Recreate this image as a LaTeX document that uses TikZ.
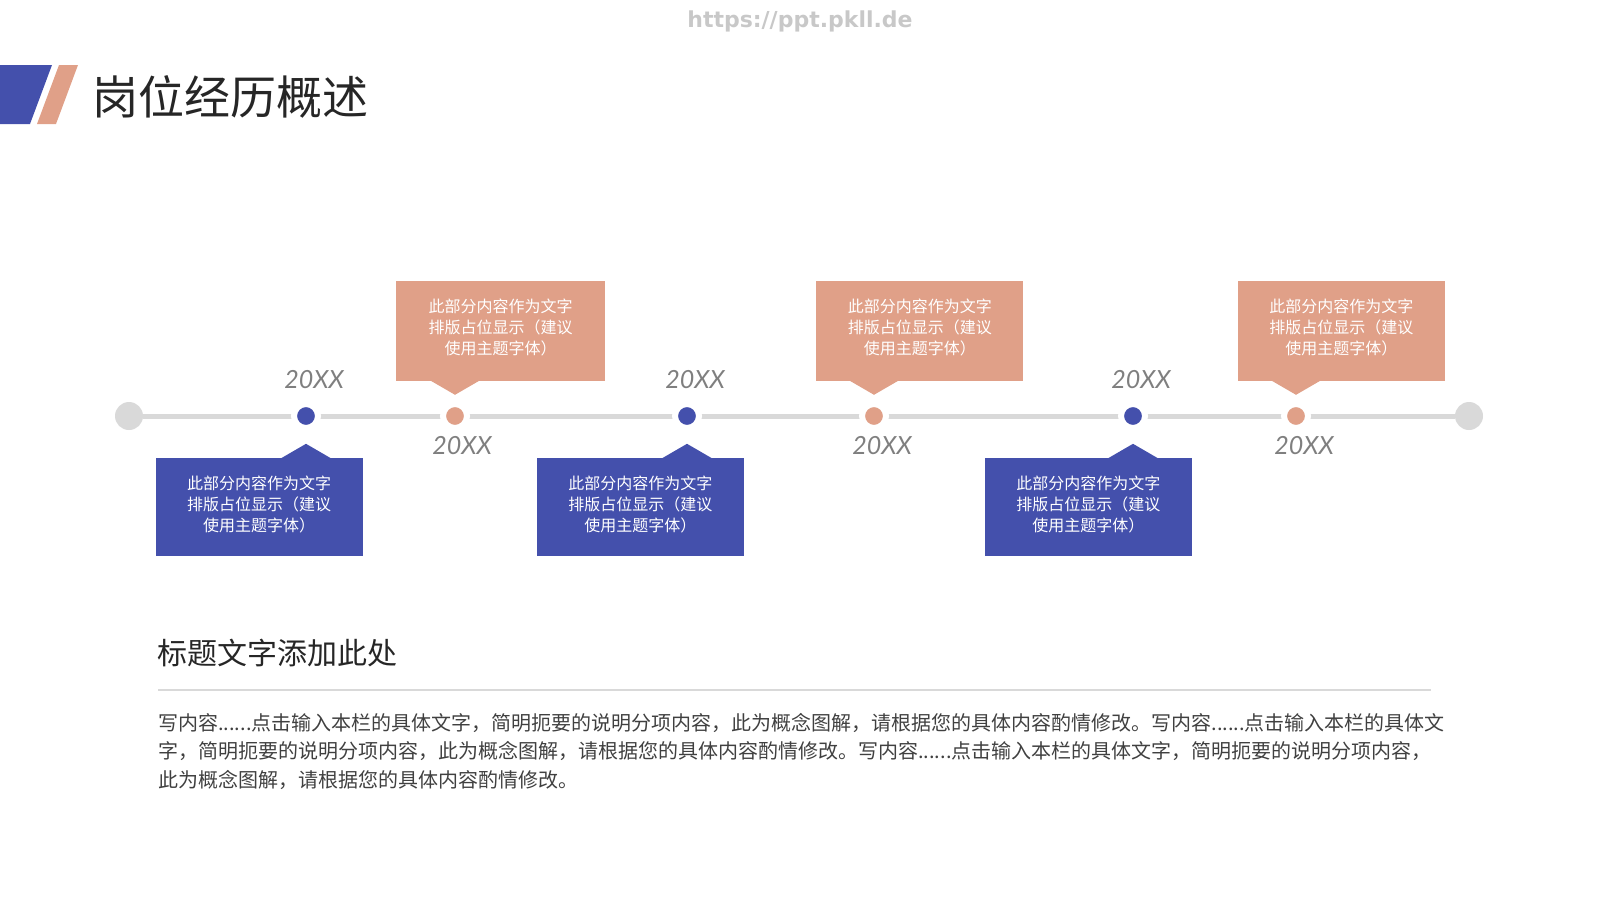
\documentclass[tikz,border=0pt]{standalone}
\usepackage{fontspec}
\setmainfont{Noto Sans CJK SC}
\newfontfamily\yearfont{Lato}
\newfontfamily\urlfont{DejaVu Sans}
\usetikzlibrary{backgrounds,calc}
\definecolor{tblue}{HTML}{4450AC}
\definecolor{torange}{HTML}{E0A088}
\definecolor{tline}{HTML}{D9D9D9}
\definecolor{tdark}{HTML}{262626}
\definecolor{ttext}{HTML}{404040}
\definecolor{tyear}{HTML}{7F7F7F}
\definecolor{turl}{HTML}{C8C8C8}
\tikzset{
  obox/.style={fill=torange, minimum width=207, minimum height=100, inner sep=0, text=white, align=center, font=\fontsize{16}{21}\selectfont},
  bbox/.style={fill=tblue, minimum width=207, minimum height=98, inner sep=0, text=white, align=center, font=\fontsize{16}{21}\selectfont},
  dotb/.style={circle, minimum size=24, inner sep=0, draw=white, line width=6, fill=tblue},
  doto/.style={circle, minimum size=24, inner sep=0, draw=white, line width=6, fill=torange},
  endc/.style={circle, minimum size=28, inner sep=0, fill=tline},
  yearlbl/.style={font=\yearfont\itshape\fontsize{25}{25}\selectfont, text=tyear, inner sep=0},
  tl/.style={line width=5, draw=tline}
}
\begin{document}
\begin{tikzpicture}[x=1pt,y=-1pt]
\useasboundingbox (0,0) rectangle (1600,900);
% header
\node[font=\urlfont\bfseries\fontsize{22}{22}\selectfont, text=turl] (url) at (800,21) {https://ppt.pkll.de};
\fill[tblue] (0,65) -- (52,65) -- (30,124) -- (0,124) -- cycle;
\fill[torange] (59,65) -- (78,65) -- (56,124) -- (37,124) -- cycle;
\node[anchor=west, text=tdark, font=\fontsize{46}{46}\selectfont, inner sep=0] (title) at (92,97) {岗位经历概述};
% timeline
\node[endc] (e1) at (129,416) {};
\node[endc] (e2) at (1469,416) {};
\node[dotb] (d1) at (306,416) {};
\node[doto] (d2) at (455,416) {};
\node[dotb] (d3) at (687,416) {};
\node[doto] (d4) at (874,416) {};
\node[dotb] (d5) at (1133,416) {};
\node[doto] (d6) at (1296,416) {};
\begin{scope}[on background layer]
\draw[tl] (e1) -- (e2);
\end{scope}
% years
\node[yearlbl] (y1) at ($(d1)+(8,-36)$) {20XX};
\node[yearlbl] (y2) at ($(d2)+(7,30)$) {20XX};
\node[yearlbl] (y3) at ($(d3)+(8,-36)$) {20XX};
\node[yearlbl] (y4) at ($(d4)+(8,30)$) {20XX};
\node[yearlbl] (y5) at ($(d5)+(8,-36)$) {20XX};
\node[yearlbl] (y6) at ($(d6)+(8,30)$) {20XX};
% upper boxes
\node[obox, minimum width=209] (o1) at (500.5,330.6) {};
\node[obox] (o2) at (919.8,330.6) {};
\node[obox] (o3) at (1341.4,330.6) {};
% lower boxes
\node[bbox] (b1) at (259,507) {};
\node[bbox] (b2) at (640.4,507) {};
\node[bbox] (b3) at (1088.4,507) {};
\foreach \b in {o1,o2,o3,b1,b2,b3}{
  \node[text=white, align=center, font=\fontsize{16}{21}\selectfont, inner sep=0] at ($(\b.center)+(0,-3)$) {此部分内容作为文字\\排版占位显示（建议\\使用主题字体）};
}
\foreach \b/\d in {o1/d2,o2/d4,o3/d6}{
  \fill[torange] ($(\b.south -| \d)+(-25,-0.5)$) -- ($(\b.south -| \d)+(25,-0.5)$) -- ($(\b.south -| \d)+(0,14)$) -- cycle;
}
\foreach \b/\d in {b1/d1,b2/d3,b3/d5}{
  \fill[tblue] ($(\b.north -| \d)+(-25,0.5)$) -- ($(\b.north -| \d)+(25,0.5)$) -- ($(\b.north -| \d)+(0,-14)$) -- cycle;
}
% bottom section
\node[anchor=west, text=tdark, font=\fontsize{30}{30}\selectfont, inner sep=0] (sub) at (157,653) {标题文字添加此处};
\coordinate (s1) at (158,690);
\coordinate (s2) at (1431,690);
\draw[tline, line width=1.5] (s1) -- (s2);
\node[anchor=north west, text=ttext, align=left, inner sep=0, font=\fontsize{20}{28.6}\selectfont] (para) at (158,713) {写内容......点击输入本栏的具体文字，简明扼要的说明分项内容，此为概念图解，请根据您的具体内容酌情修改。写内容......点击输入本栏的具体文\\字，简明扼要的说明分项内容，此为概念图解，请根据您的具体内容酌情修改。写内容......点击输入本栏的具体文字，简明扼要的说明分项内容，\\此为概念图解，请根据您的具体内容酌情修改。};
\end{tikzpicture}
\end{document}
